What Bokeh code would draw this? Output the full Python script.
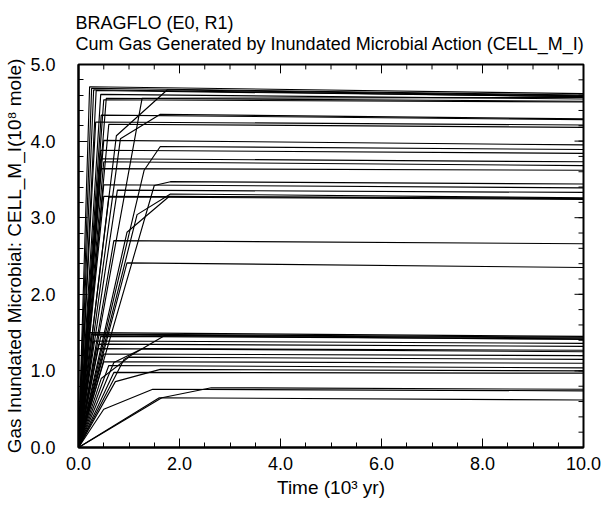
from bokeh.plotting import figure
from bokeh.models import Range1d, FixedTicker, PrintfTickFormatter, Title
from bokeh.embed import file_html
from bokeh.resources import INLINE
import numpy as np

# ---- data (time in 10^3 yr, gas in 10^8 mole) ----
# knee point (None = straight rise from origin), plateau start, value at 10 kyr
knee_t = [None, None, None, None, 0.75, None, None, None, None, 0.83,
          None, None, None, None, 1.30, None, None, None, None, 1.50,
          None, None, 1.16, None, None, 0.96, None, None,
          None, None, None, None, 0.90, None, None, 0.70, None, None,
          0.45, None, None, 0.73, None, 0.50, 1.65, None]
knee_v = [None, None, None, None, 4.07, None, None, None, None, 4.03,
          None, None, None, None, 3.62, None, None, None, None, 3.42,
          None, None, 3.04, None, None, 2.81, None, None,
          None, None, None, None, 1.15, None, None, 1.11, None, None,
          0.90, None, None, 0.86, None, 0.50, 0.65, None]
plat_t = [0.22, 0.26, 0.30, 0.35, 1.76, 1.26, 0.44, 0.55, 0.50, 1.62,
          0.45, 0.34, 0.60, 0.50, 1.62, 0.44, 0.44, 0.50, 0.44, 1.82,
          0.50, 0.77, 1.82, 0.50, 0.60, 1.80, 0.70, 0.96,
          0.20, 0.25, 0.30, 0.44, 1.70, 0.30, 0.40, 1.26, 0.35, 0.50,
          1.00, 0.50, 0.60, 1.62, 0.70, 1.47, 2.63, 1.60]
plat_v = [4.71, 4.69, 4.67, 4.66, 4.67, 4.56, 4.61, 4.56, 4.54, 4.35,
          4.34, 4.25, 4.22, 4.01, 3.93, 3.88, 3.77, 3.73, 3.64, 3.47,
          3.43, 3.36, 3.31, 3.28, 3.27, 3.28, 2.70, 2.41,
          1.50, 1.48, 1.47, 1.45, 1.46, 1.39, 1.35, 1.29, 1.29, 1.22,
          1.18, 1.12, 1.07, 1.02, 0.98, 0.76, 0.78, 0.65]
end_v = [4.62, 4.60, 4.58, 4.58, 4.59, 4.57, 4.55, 4.52, 4.51, 4.29,
         4.28, 4.21, 4.18, 3.95, 3.89, 3.84, 3.73, 3.68, 3.62, 3.44,
         3.39, 3.33, 3.26, 3.25, 3.24, 3.25, 2.66, 2.35,
         1.45, 1.44, 1.43, 1.42, 1.41, 1.36, 1.32, 1.27, 1.25, 1.20,
         1.15, 1.10, 1.04, 1.00, 0.97, 0.74, 0.76, 0.62]

title_lines = ["BRAGFLO (E0, R1)",
               "Cum Gas Generated by Inundated Microbial Action (CELL_M_I)"]
t_end = 10.0
x_ticks = [0, 2, 4, 6, 8, 10]
y_ticks = [0, 1, 2, 3, 4, 5]
x_minor_step = 0.5
y_minor_step = 0.2

xs, ys = [], []
for kt, kv, pt, pv, ev in zip(knee_t, knee_v, plat_t, plat_v, end_v):
    tx, ty = [0.0], [0.0]
    if kt is not None:
        tx.append(kt); ty.append(kv)
    tx += [pt, t_end]; ty += [pv, ev]
    xs.append(tx); ys.append(ty)

FONT = "Liberation Sans"
W, H = 607, 500
BL, BR, BT, BB = 78, 24, 61, 50
X0, X1, Y0, Y1 = 0, 10, 0, 5

p = figure(width=W, height=H, output_backend="svg", toolbar_location=None,
           x_range=Range1d(X0, X1), y_range=Range1d(Y0, Y1),
           min_border_left=BL, min_border_right=BR, min_border_top=BT, min_border_bottom=BB)
p.grid.visible = False
p.outline_line_color = "black"
p.outline_line_width = 2
p.background_fill_color = "white"
p.border_fill_color = "white"

p.multi_line(xs=xs, ys=ys, line_color="black", line_width=1.15)

x_minor = list(np.arange(X0, X1 + 1e-9, x_minor_step))
y_minor = list(np.arange(Y0, Y1 + 1e-9, y_minor_step))
xt = FixedTicker(ticks=x_ticks, minor_ticks=x_minor)
yt = FixedTicker(ticks=y_ticks, minor_ticks=y_minor)

for ax in (p.xaxis[0], p.yaxis[0]):
    ax.axis_line_width = 2
    ax.major_tick_in = 9
    ax.major_tick_out = 0
    ax.minor_tick_in = 5
    ax.minor_tick_out = 0
    ax.formatter = PrintfTickFormatter(format="%.1f")
    ax.major_label_text_font = FONT
    ax.major_label_text_font_size = "18px"
    ax.major_label_text_color = "black"
    ax.axis_label_text_font = FONT
    ax.axis_label_text_font_size = "19px"
    ax.axis_label_text_font_style = "normal"
    ax.axis_label_text_color = "black"

p.xaxis.ticker = xt
p.yaxis.ticker = yt
p.xaxis.axis_label = "Time (10³ yr)"
p.yaxis.axis_label = "Gas Inundated Microbial: CELL_M_I(10⁸ mole)"
p.xaxis.major_label_standoff = 9
p.yaxis.major_label_standoff = 23
p.xaxis.axis_label_standoff = 4
p.yaxis.axis_label_standoff = 2

# inward ticks on the top and right frame edges (lengths in pixels converted to data units)
fw, fh = W - BL - BR, H - BT - BB
dy_major, dy_minor = 9 * (Y1 - Y0) / fh, 5 * (Y1 - Y0) / fh
dxm, dxn = 9 * (X1 - X0) / fw, 5 * (X1 - X0) / fw
p.segment(x0=x_ticks, y0=[Y1] * len(x_ticks), x1=x_ticks, y1=[Y1 - dy_major] * len(x_ticks),
          line_color="black", line_width=1)
p.segment(x0=x_minor, y0=[Y1] * len(x_minor), x1=x_minor, y1=[Y1 - dy_minor] * len(x_minor),
          line_color="black", line_width=1)
p.segment(x0=[X1] * len(y_ticks), y0=y_ticks, x1=[X1 - dxm] * len(y_ticks), y1=y_ticks,
          line_color="black", line_width=1)
p.segment(x0=[X1] * len(y_minor), y0=y_minor, x1=[X1 - dxn] * len(y_minor), y1=y_minor,
          line_color="black", line_width=1)

p.add_layout(Title(text="\n".join(title_lines), align="left",
                   text_font=FONT, text_font_size="18px", text_font_style="normal",
                   text_color="black", text_line_height=1.06, standoff=21, offset=-3), "above")

open("out.html", "w").write(file_html(p, INLINE))
